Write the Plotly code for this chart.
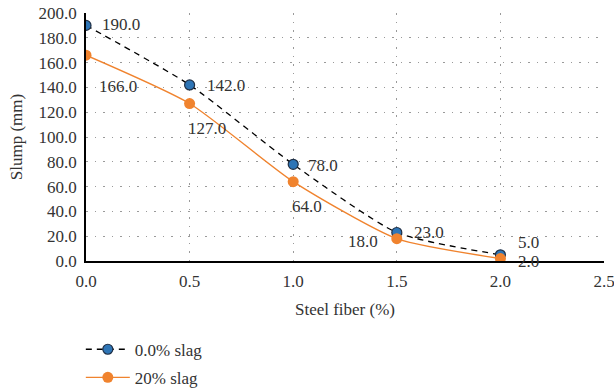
import plotly.graph_objects as go

steel_fiber = [0.0, 0.5, 1.0, 1.5, 2.0]
slag_0 = [190.0, 142.0, 78.0, 23.0, 5.0]
slag_20 = [166.0, 127.0, 64.0, 18.0, 2.0]
x_ticks = [0.0, 0.5, 1.0, 1.5, 2.0, 2.5]
y_ticks = [0, 20, 40, 60, 80, 100, 120, 140, 160, 180, 200]

FONT = "Liberation Serif"
FS = 17
TXT = "#333333"

fig = go.Figure()
fig.add_trace(go.Scatter(
    x=steel_fiber, y=slag_0, name="0.0% slag", mode="lines+markers", legendgroup="a",
    line=dict(color="black", width=1.3, dash="6px,5px", shape="spline", smoothing=0.6),
    marker=dict(color="#2E75B6", size=10, line=dict(color="#1F2F45", width=1.2)),
))
fig.add_trace(go.Scatter(
    x=steel_fiber, y=slag_20, name="20% slag", mode="lines+markers", legendgroup="b",
    line=dict(color="#F0832E", width=1.4, shape="spline", smoothing=0.6),
    marker=dict(color="#F0832E", size=11),
))

# label offsets (px): (xshift, yshift)
off0 = [(35, 1), (36, -1), (30, -1), (32, 0), (28, 12)]
off20 = [(32, -31), (17, -25), (14, -25), (-34, -3), (28, -3)]
for xv, yv, (dx, dy) in zip(steel_fiber, slag_0, off0):
    fig.add_annotation(x=xv, y=yv, text=f"{yv:.1f}", showarrow=False,
                       xshift=dx, yshift=dy, font=dict(family=FONT, size=FS, color=TXT))
for xv, yv, (dx, dy) in zip(steel_fiber, slag_20, off20):
    fig.add_annotation(x=xv, y=yv, text=f"{yv:.1f}", showarrow=False,
                       xshift=dx, yshift=dy, font=dict(family=FONT, size=FS, color=TXT))

grid = dict(showgrid=True, gridcolor="#9a9a9a", gridwidth=1, griddash="1.5px,7px")
fig.update_xaxes(range=[0, 2.5], tickvals=x_ticks, ticktext=[f"{v:.1f}" for v in x_ticks],
                 showline=True, linecolor="black", linewidth=1.5, zeroline=False, automargin=False,
                 ticklabelstandoff=4, ticklabeloverflow="allow",
                 title=dict(text="Steel fiber (%)", font=dict(family=FONT, size=FS, color=TXT), standoff=13),
                 tickfont=dict(family=FONT, size=FS, color=TXT), ticks="", **grid)
fig.update_yaxes(range=[0, 200], tickvals=y_ticks, ticktext=[f"{v:.1f}" for v in y_ticks],
                 showline=True, linecolor="black", linewidth=1.5, zeroline=False, automargin=False,
                 ticklabelstandoff=4, ticklabeloverflow="allow",
                 title=dict(text="Slump (mm)", font=dict(family=FONT, size=FS, color=TXT), standoff=12),
                 tickfont=dict(family=FONT, size=FS, color=TXT), ticks="", **grid)

fig.update_layout(
    width=614, height=391,
    margin=dict(l=86, r=10, t=13, b=130, autoexpand=False),
    plot_bgcolor="white", paper_bgcolor="white",
    showlegend=True,
    legend=dict(orientation="v", x=-0.01, xanchor="left", y=-0.285, yanchor="top",
                font=dict(family=FONT, size=FS, color=TXT), tracegroupgap=3, itemwidth=44,
                bgcolor="rgba(0,0,0,0)"),
)

fig.write_html("out.html", config={"displayModeBar": False},
               post_script="document.body.style.margin='0';")
